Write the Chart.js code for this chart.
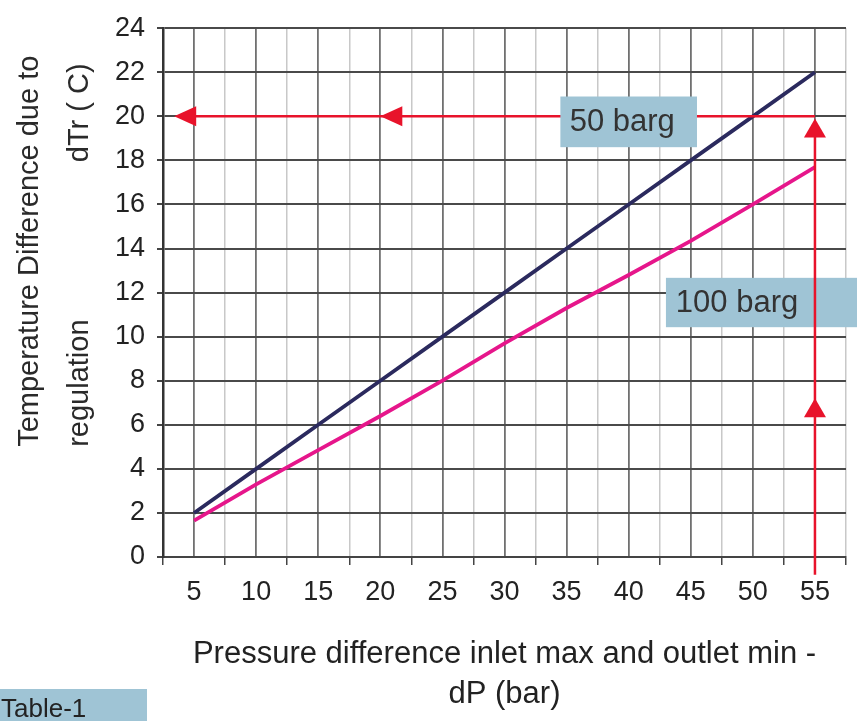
<!DOCTYPE html>
<html>
<head>
<meta charset="utf-8">
<title>dTr vs dP</title>
<script src="https://cdn.jsdelivr.net/npm/chart.js@4.4.1/dist/chart.umd.min.js"></script>
<style>
	html,body{margin:0;padding:0;background:#fff;}
	#wrap{width:857px;height:721px;}
</style>
</head>
<body>
<div id="wrap"><canvas id="dtrCanvas" width="857" height="721"></canvas></div>
<script>
// values
var pressureDiff=['5','10','15','20','25','30','35','40','45','50','55'];
var dTr50barg=[2,4,6,8,10,12,14,16,18,20,22];
var dTr100barg=[1.65,3.3,4.85,6.4,8,9.7,11.3,12.8,14.35,16,17.7];
var yMin=0, yMax=24, yStep=2;

var guideLevel=20;          // red guide line (dTr)
var labelTexts=['50 barg','100 barg'];
var yTitleLines=['Temperature Difference due to','regulation','dTr ( C)'];
var xTitleLines=['Pressure difference inlet max and outlet min -','dP (bar)'];

var FONT='"Liberation Sans", Arial, Helvetica, sans-serif';
var RED='#e8132b';
var BOX='#9fc4d5';

function arrowHead(ctx,x,y,dir){
	// dir: 'left' or 'up', (x,y) is the tip
	ctx.beginPath();
	if(dir=='left'){
		ctx.moveTo(x,y);
		ctx.lineTo(x+22,y-10);
		ctx.lineTo(x+22,y+10);
	}else{
		ctx.moveTo(x,y);
		ctx.lineTo(x-11,y+19);
		ctx.lineTo(x+11,y+19);
	}
	ctx.closePath();
	ctx.fill();
}

function labelBox(ctx,x1,y1,x2,y2,text,textX){
	ctx.fillStyle=BOX;
	ctx.fillRect(x1,y1,x2-x1,y2-y1);
	ctx.fillStyle='#333';
	ctx.font='31px '+FONT;
	ctx.textAlign='left';
	ctx.textBaseline='middle';
	ctx.fillText(text,textX,(y1+y2)/2+1);
}

var guidePlugin={
	id:'guides',
	afterDatasetsDraw:function(chart){
		var ctx=chart.ctx, xs=chart.scales.x, ys=chart.scales.y;
		var yLev=ys.getPixelForValue(guideLevel);
		var xEnd=xs.getPixelForValue(10);
		ctx.save();
		ctx.strokeStyle=RED;
		ctx.fillStyle=RED;
		ctx.lineWidth=2.5;

		//horizontal guide back to the y axis
		var tip=xs.getPixelForValue(-0.32);
		ctx.beginPath();
		ctx.moveTo(tip+10,yLev);
		ctx.lineTo(xEnd,yLev);
		ctx.stroke();
		arrowHead(ctx,tip,yLev,'left');
		arrowHead(ctx,xs.getPixelForValue(3),yLev,'left');

		labelBox(ctx,xs.getPixelForValue(5.9),ys.getPixelForValue(20.9),
			xs.getPixelForValue(8.1),ys.getPixelForValue(18.6),labelTexts[0],xs.getPixelForValue(6.05));
		labelBox(ctx,xs.getPixelForValue(7.6),ys.getPixelForValue(12.67),
			chart.width,ys.getPixelForValue(10.43),labelTexts[1],xs.getPixelForValue(7.76));

		//vertical guide up from 55 bar
		ctx.strokeStyle=RED;
		ctx.fillStyle=RED;
		ctx.beginPath();
		ctx.moveTo(xEnd,ys.getPixelForValue(-0.8));
		ctx.lineTo(xEnd,ys.getPixelForValue(19.9)+10);
		ctx.stroke();
		arrowHead(ctx,xEnd,ys.getPixelForValue(19.9),'up');
		arrowHead(ctx,xEnd,ys.getPixelForValue(7.2),'up');
		ctx.restore();
	},
	afterDraw:function(chart){
		var ctx=chart.ctx, ys=chart.scales.y;
		var yStart=ys.getPixelForValue(5);
		ctx.save();
		ctx.fillStyle='#2a2a2a';
		ctx.font='29px '+FONT;
		ctx.textBaseline='alphabetic';

		//y title, rotated
		ctx.save();
		ctx.translate(38,yStart);
		ctx.rotate(-Math.PI/2);
		ctx.textAlign='left';
		ctx.fillText(yTitleLines[0],0,0);
		ctx.restore();

		ctx.save();
		ctx.translate(88,yStart);
		ctx.rotate(-Math.PI/2);
		ctx.textAlign='left';
		ctx.fillText(yTitleLines[1],0,0);
		ctx.textAlign='right';
		ctx.fillText(yTitleLines[2],yStart-ys.getPixelForValue(22.4),0);
		ctx.restore();

		//Table-1 tag in the corner
		ctx.fillStyle=BOX;
		ctx.fillRect(0,chart.height-32,147,32);
		ctx.fillStyle='#222';
		ctx.font='26px '+FONT;
		ctx.textAlign='left';
		ctx.fillText('Table-1',1,chart.height-4);
		ctx.restore();
	}
};

var chartdata={
	labels:pressureDiff,
	datasets:[
		{
			label:'50 barg',
			data:dTr50barg,
			borderColor:'#2b2a5e',
			backgroundColor:'#2b2a5e',
			borderWidth:3.8,
			pointRadius:0,
			tension:0
		},
		{
			label:'100 barg',
			data:dTr100barg,
			borderColor:'#e6168b',
			backgroundColor:'#e6168b',
			borderWidth:3.8,
			pointRadius:0,
			tension:0
		}
	]
};

var ctx=document.getElementById('dtrCanvas');

var lineGraph=new Chart(ctx,{
	type:'line',
	data:chartdata,
	plugins:[guidePlugin],
	options:{
		responsive:false,
		animation:false,
		events:[],
		layout:{padding:{left:0,right:11,top:22,bottom:0}},
		plugins:{legend:{display:false},tooltip:{enabled:false}},
		scales:{
			x:{
				type:'category',
				offset:true,
				grid:{offset:true,color:'#c8c8c8',lineWidth:1.5,tickColor:'#444',tickLength:8},
				border:{color:'#444',width:2},
				ticks:{font:{family:FONT,size:27},color:'#222',padding:11,maxRotation:0,autoSkip:false},
				title:{
					display:true,
					text:xTitleLines,
					font:{family:FONT,size:31,lineHeight:1.3},
					color:'#222',
					padding:{top:0,bottom:6}
				},
				afterFit:function(scale){scale.height=164;}
			},
			x2:{
				type:'category',
				position:'top',
				offset:true,
				grid:{offset:false,color:'#707070',lineWidth:1.8,drawTicks:false},
				border:{display:false},
				ticks:{display:false}
			},
			y:{
				min:yMin,
				max:yMax,
				ticks:{stepSize:yStep,font:{family:FONT,size:27},color:'#222',padding:12},
				grid:{color:'#4a4a4a',lineWidth:2,tickColor:'#444',tickLength:6},
				border:{color:'#333',width:2.5},
				afterFit:function(scale){scale.width=163;}
			}
		}
	}
});
</script>
</body>
</html>
